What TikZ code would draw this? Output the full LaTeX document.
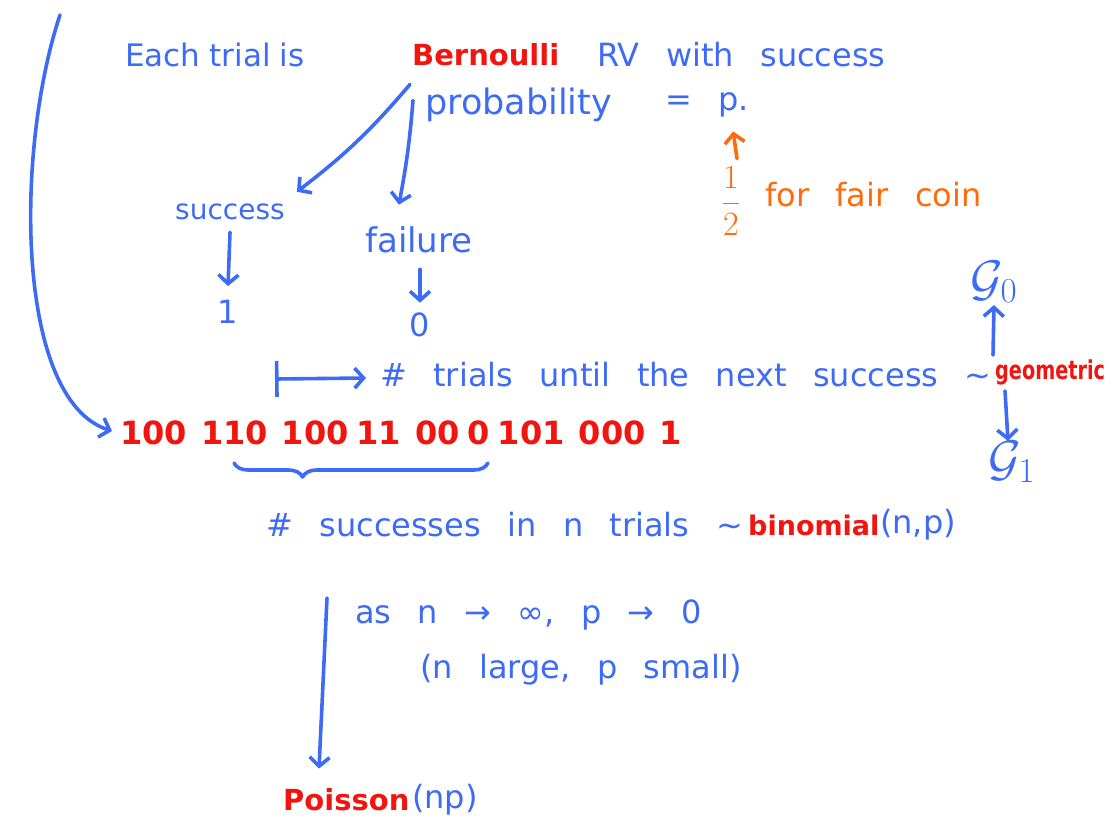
\documentclass[tikz,border=0pt]{standalone}
\usepackage{fix-cm}
\usepackage{fontspec}
\setmainfont{DejaVu Sans}[WordSpace=2.6]
\usetikzlibrary{arrows.meta,calc,decorations.pathreplacing}
\definecolor{pen}{HTML}{3D6BF5}
\definecolor{penred}{HTML}{F2140F}
\definecolor{penorange}{HTML}{FF6A0A}

\begin{document}
\begin{tikzpicture}[
  x=1pt, y=-1pt,
  font=\fontsize{32}{36}\selectfont,
  note/.style={text=pen, anchor=west, inner sep=0pt},
  term/.style={note, text=penred, font=\fontsize{29}{33}\selectfont\bfseries},
  aside/.style={note, text=penorange},
  digit/.style={note, anchor=center},
  script/.style={digit, font=\fontsize{50}{54}\selectfont},
  stroke/.style={draw=pen, line width=3.6pt, line cap=round, line join=round},
  arrow/.style={stroke, -{Straight Barb[length=9pt,width=20pt,line width=3.6pt]}},
  hint/.style={arrow, draw=penorange}
]
\useasboundingbox (0,0) rectangle (1118,823);

% Heading sentence, split where the pen colour changes.
\node[note, font={\fontsize{31}{35}\selectfont\spaceskip 9pt\relax}] (each) at (125,55) {Each trial is};
\node[term] (bern) at (412,55) {Bernoulli};
\node[note] (rv) at (597,55) {RV with success};
\node[note, font=\fontsize{35}{39}\selectfont] (prob) at (425,105) {probability};
\node[note] (eqp) at (665,105) {= p.};

\node[note, font=\fontsize{28}{32}\selectfont] (succ) at (175,212) {success};
\node[note, font=\fontsize{34}{38}\selectfont] (fail) at (365,240) {failure};
\node[digit] (one) at (228,312) {1};
\node[digit] (zero) at (420,325) {0};

\node[aside, anchor=center, font=\fontsize{34}{38}\selectfont] (half) at (731,201) {$\displaystyle\frac{1}{2}$};
\node[aside] (coin) at (765,195) {for fair coin};

\draw[arrow] ($(bern.south west)+(-2,18)$) to[bend left=6] ($(succ.north east)+(12,-12)$);
\draw[arrow] ($(bern.south west)+(1,34)$) to[bend left=3] ($(fail.north)+(-20,-22)$);
\draw[arrow] ($(succ.south -| one)+(2,12)$) -- ($(one.north)+(0,-14)$);
\draw[arrow] ($(fail.south -| zero)+(0,16)$) -- ($(zero.north)+(0,-10)$);
\draw[hint] ($(half.north)+(6,-8)$) -- ($(eqp.south east)+(-16,14)$);

% The trial sequence and what can be counted on it.
\coordinate (tail) at (60,15);
\node[term, font=\fontsize{32}{36}\selectfont\bfseries] (bits) at (120,433)
  {100\hspace{14pt}110\hspace{14pt}100\hspace{8pt}11\hspace{14pt}00\hspace{8pt}0\hspace{8pt}101\hspace{14pt}000\hspace{14pt}1};
\draw[arrow] (tail) .. controls (15,150) and (15,400) .. ($(bits.west)+(-8,-2)$);

\coordinate (runstart) at (275,379);
\node[note] (until) at (380,375) {\# trials until the next success \textasciitilde};
\node[term, font=\fontsize{26}{30}\selectfont\bfseries] (geo) at (995,372) {\scalebox{.74}[1]{geometric}};
\draw[stroke, {Bar[width=36pt,line width=3.6pt]}-{Straight Barb[length=9pt,width=20pt,line width=3.6pt]}]
  (runstart) -- ($(until.west)+(-14,3)$);

\node[script] (g0) at (994,282) {$\mathcal{G}_0$};
\node[script] (g1) at (1012,462) {$\mathcal{G}_1$};
\draw[arrow] ($(geo.north west)+(-2,-4)$) -- ($(g0.south)+(0,2)$);
\draw[arrow] ($(geo.south west)+(10,6)$) -- ($(g1.north)+(-4,0)$);

\coordinate (braceleft) at (234,463);
\coordinate (braceright) at (488,463);
\draw[stroke, decorate, decoration={brace, mirror, amplitude=14pt, aspect=.27}]
  (braceleft) -- (braceright);

\node[note] (count) at (266,525) {\# successes in n trials \textasciitilde};
\node[term, font=\fontsize{27}{31}\selectfont\bfseries] (binom) at (748,525) {binomial};
\node[note] (binarg) at (880,525) {(n,p)};

% Limit to the Poisson law.
\node[note] (lim) at (355,615) {as n → ∞, p → 0};
\node[note] (cond) at (420,670) {(n large, p small)};
\node[term] (pois) at (283,800) {Poisson};
\node[note] (poisarg) at (412,800) {(np)};
\coordinate (limtop) at (327,598);
\draw[arrow] (limtop) -- ($(pois.north west)+(36,-20)$);
\end{tikzpicture}
\end{document}
